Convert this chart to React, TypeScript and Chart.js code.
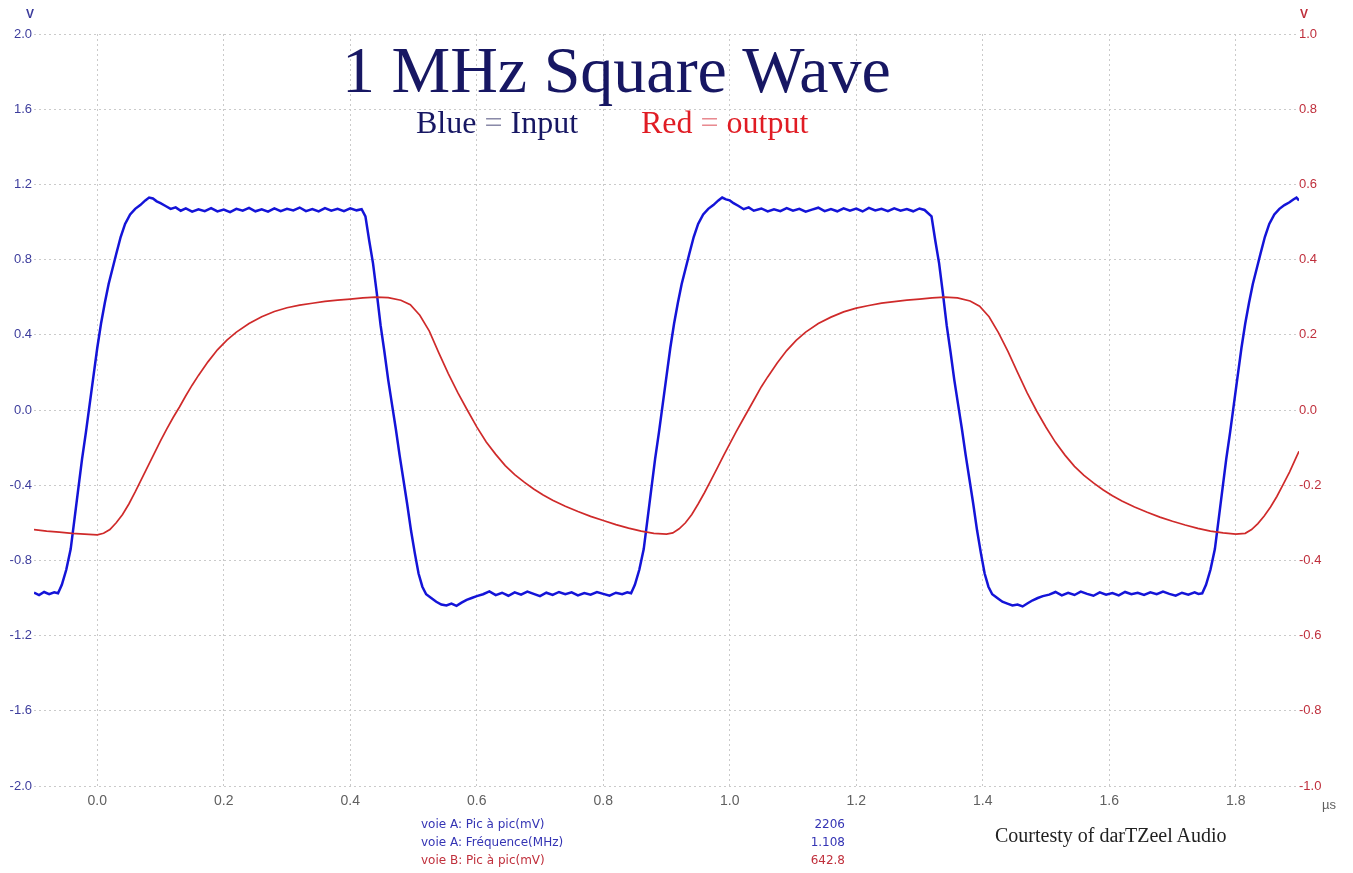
import React, { useEffect, useRef } from "react";
import { Chart, registerables } from "chart.js";

Chart.register(...registerables);

// ---- axis ticks ----
const xTickValues = [0, 0.2, 0.4, 0.6, 0.8, 1.0, 1.2, 1.4, 1.6, 1.8];
const leftTickValues = [-2.0, -1.6, -1.2, -0.8, -0.4, 0.0, 0.4, 0.8, 1.2, 1.6, 2.0];
const rightTickValues = [-1.0, -0.8, -0.6, -0.4, -0.2, 0.0, 0.2, 0.4, 0.6, 0.8, 1.0];

// ---- channel A (blue, input, left axis, V) ----
const blueTime = [
  -0.1, -0.092, -0.084, -0.076, -0.068, -0.062, -0.056, -0.049, -0.042, -0.036, -0.03, -0.024, -0.018, -0.012,
  -0.006, 0.0, 0.006, 0.012, 0.018, 0.024, 0.03, 0.037, 0.044, 0.052, 0.06, 0.068, 0.076, 0.082, 0.088, 0.094,
  0.1, 0.108, 0.116, 0.124, 0.132, 0.14, 0.15, 0.16, 0.17, 0.18, 0.19, 0.2, 0.21, 0.22, 0.23, 0.24, 0.25, 0.26,
  0.27, 0.28, 0.29, 0.3, 0.31, 0.32, 0.33, 0.34, 0.35, 0.36, 0.37, 0.38, 0.39, 0.4, 0.41, 0.418, 0.424, 0.43,
  0.436, 0.442, 0.448, 0.454, 0.46, 0.466, 0.472, 0.478, 0.484, 0.49, 0.496, 0.502, 0.508, 0.514, 0.52, 0.528,
  0.536, 0.544, 0.552, 0.56, 0.568, 0.576, 0.584, 0.592, 0.6, 0.61, 0.62, 0.63, 0.64, 0.65, 0.66, 0.67, 0.68,
  0.69, 0.7, 0.71, 0.72, 0.73, 0.74, 0.75, 0.76, 0.77, 0.78, 0.79, 0.8, 0.81, 0.82, 0.83, 0.838, 0.844, 0.85,
  0.857, 0.864, 0.87, 0.876, 0.882, 0.888, 0.894, 0.9, 0.906, 0.912, 0.918, 0.924, 0.93, 0.936, 0.943, 0.95,
  0.958, 0.966, 0.974, 0.982, 0.988, 0.994, 1.0, 1.006, 1.014, 1.022, 1.03, 1.038, 1.05, 1.06, 1.07, 1.08, 1.09,
  1.1, 1.11, 1.12, 1.13, 1.14, 1.15, 1.16, 1.17, 1.18, 1.19, 1.2, 1.21, 1.22, 1.23, 1.24, 1.25, 1.26, 1.27, 1.28,
  1.29, 1.3, 1.308, 1.319, 1.325, 1.331, 1.337, 1.343, 1.349, 1.355, 1.361, 1.367, 1.373, 1.379, 1.385, 1.391,
  1.397, 1.403, 1.409, 1.415, 1.423, 1.431, 1.439, 1.447, 1.455, 1.463, 1.471, 1.479, 1.487, 1.495, 1.505, 1.515,
  1.525, 1.535, 1.545, 1.555, 1.565, 1.575, 1.585, 1.595, 1.605, 1.615, 1.625, 1.635, 1.645, 1.655, 1.665, 1.675,
  1.685, 1.695, 1.705, 1.715, 1.725, 1.735, 1.741, 1.747, 1.753, 1.76, 1.767, 1.773, 1.779, 1.785, 1.791, 1.797,
  1.803, 1.809, 1.815, 1.821, 1.827, 1.833, 1.839, 1.846, 1.853, 1.861, 1.869, 1.877, 1.885, 1.891, 1.896, 1.9,
];
const blueVolts = [
  -0.972, -0.985, -0.968, -0.98, -0.97, -0.975, -0.93, -0.85, -0.74, -0.58, -0.42, -0.26, -0.12, 0.03,
  0.18, 0.33, 0.46, 0.57, 0.67, 0.75, 0.83, 0.92, 0.99, 1.04, 1.07, 1.09, 1.115, 1.13, 1.125, 1.11,
  1.1, 1.085, 1.07, 1.078, 1.06, 1.072, 1.055, 1.068, 1.058, 1.074, 1.056, 1.066, 1.052, 1.07, 1.06, 1.075, 1.057, 1.068,
  1.055, 1.073, 1.058, 1.07, 1.062, 1.077, 1.058, 1.069, 1.056, 1.074, 1.06, 1.07, 1.058, 1.073, 1.062, 1.068, 1.03, 0.9,
  0.78, 0.62, 0.45, 0.31, 0.16, 0.03, -0.1, -0.24, -0.37, -0.5, -0.64, -0.76, -0.87, -0.94, -0.98, -1.0,
  -1.02, -1.035, -1.04, -1.03, -1.042, -1.025, -1.01, -1.0, -0.99, -0.98, -0.965, -0.985, -0.972, -0.988, -0.97, -0.982, -0.966,
  -0.978, -0.99, -0.972, -0.984, -0.968, -0.98, -0.97, -0.986, -0.974, -0.982, -0.968, -0.978, -0.988, -0.972, -0.98, -0.97, -0.975, -0.93,
  -0.85, -0.74, -0.58, -0.42, -0.26, -0.12, 0.03, 0.18, 0.33, 0.46, 0.57, 0.67, 0.75, 0.83, 0.92, 0.99,
  1.04, 1.07, 1.09, 1.115, 1.13, 1.12, 1.115, 1.1, 1.085, 1.068, 1.078, 1.06, 1.072, 1.056, 1.068, 1.058, 1.074,
  1.06, 1.07, 1.055, 1.066, 1.076, 1.058, 1.069, 1.057, 1.073, 1.06, 1.071, 1.056, 1.075, 1.062, 1.07, 1.058, 1.073, 1.06, 1.069,
  1.057, 1.072, 1.064, 1.03, 0.9, 0.78, 0.62, 0.45, 0.31, 0.16, 0.03, -0.1, -0.24, -0.37, -0.5, -0.64,
  -0.76, -0.87, -0.94, -0.98, -1.0, -1.02, -1.03, -1.04, -1.035, -1.045, -1.028, -1.012, -1.0, -0.99, -0.982, -0.968,
  -0.986, -0.972, -0.984, -0.966, -0.978, -0.988, -0.97, -0.982, -0.974, -0.986, -0.968, -0.98, -0.972, -0.984, -0.97, -0.98,
  -0.966, -0.978, -0.988, -0.972, -0.982, -0.97, -0.978, -0.975, -0.93, -0.85, -0.74, -0.58, -0.42, -0.26, -0.12, 0.03,
  0.18, 0.33, 0.46, 0.57, 0.67, 0.75, 0.83, 0.92, 0.99, 1.04, 1.07, 1.09, 1.105, 1.12, 1.13, 1.115,
];

// ---- channel B (red, output, right axis, V) ----
const redTime = [
  -0.1, -0.08, -0.06, -0.04, -0.02, 0.0, 0.01, 0.02, 0.03, 0.04, 0.05, 0.06, 0.07, 0.08, 0.09, 0.1, 0.11, 0.12,
  0.13, 0.14, 0.15, 0.16, 0.175, 0.19, 0.205, 0.22, 0.24, 0.26, 0.28, 0.3, 0.32, 0.34, 0.36, 0.38, 0.4, 0.42,
  0.44, 0.46, 0.48, 0.495, 0.51, 0.525, 0.54, 0.555, 0.57, 0.585, 0.6, 0.615, 0.63, 0.645, 0.66, 0.675, 0.69,
  0.705, 0.72, 0.74, 0.76, 0.78, 0.8, 0.82, 0.84, 0.86, 0.88, 0.9, 0.91, 0.92, 0.93, 0.94, 0.95, 0.96, 0.97,
  0.98, 0.99, 1.0, 1.01, 1.02, 1.03, 1.04, 1.05, 1.06, 1.075, 1.09, 1.105, 1.12, 1.14, 1.16, 1.18, 1.2, 1.22,
  1.24, 1.26, 1.28, 1.3, 1.32, 1.34, 1.36, 1.38, 1.395, 1.41, 1.425, 1.44, 1.455, 1.47, 1.485, 1.5, 1.515, 1.53,
  1.545, 1.56, 1.575, 1.59, 1.605, 1.62, 1.64, 1.66, 1.68, 1.7, 1.72, 1.74, 1.76, 1.78, 1.8, 1.815, 1.825, 1.835,
  1.845, 1.855, 1.865, 1.875, 1.885, 1.895, 1.9,
];
const redVolts = [
  -0.318, -0.322, -0.325, -0.328, -0.33, -0.332, -0.328, -0.318, -0.3, -0.278, -0.25, -0.218, -0.184, -0.15, -0.116, -0.082, -0.05, -0.02,
  0.008, 0.038, 0.066, 0.092, 0.128, 0.16, 0.186, 0.207, 0.23, 0.248, 0.262, 0.272, 0.279, 0.284, 0.289, 0.292, 0.295, 0.298,
  0.3, 0.299, 0.292, 0.28, 0.252, 0.21, 0.152, 0.097, 0.046, 0.0, -0.045, -0.085, -0.118, -0.148, -0.172, -0.192, -0.21,
  -0.226, -0.24, -0.256, -0.27, -0.283, -0.294, -0.305, -0.314, -0.322, -0.328, -0.33, -0.327, -0.316, -0.3, -0.278, -0.25, -0.22, -0.188,
  -0.155, -0.122, -0.09, -0.058, -0.028, 0.002, 0.032, 0.062, 0.088, 0.125, 0.158, 0.185, 0.207, 0.23, 0.247, 0.261, 0.271, 0.278,
  0.284, 0.288, 0.292, 0.295, 0.298, 0.3, 0.298, 0.29, 0.276, 0.248, 0.205, 0.155, 0.1, 0.046, -0.002, -0.046, -0.086, -0.12,
  -0.15, -0.174, -0.194, -0.212, -0.228, -0.242, -0.258, -0.272, -0.285, -0.296, -0.306, -0.315, -0.322, -0.327, -0.33, -0.328, -0.318, -0.302,
  -0.282, -0.258, -0.23, -0.198, -0.165, -0.128, -0.11,
];

// ---- annotation texts ----
const titleText = "1 MHz Square Wave";
const infoLabels = ["voie A: Pic à pic(mV)", "voie A: Fréquence(MHz)", "voie B: Pic à pic(mV)"];
const infoValues = ["2206", "1.108", "642.8"];
const courtesyText = "Courtesty of darTZeel Audio";

const BLUE = "#1414d8";
const RED = "#cf2a2a";

export default function App() {
  const canvasRef = useRef<HTMLCanvasElement | null>(null);

  useEffect(() => {
    const canvas = canvasRef.current;
    if (!canvas) return;
    const blueData = blueTime.map((t, i) => ({ x: t, y: blueVolts[i] }));
    const redData = redTime.map((t, i) => ({ x: t, y: redVolts[i] }));
    const fmt = (v: any) => Number(v).toFixed(1);

    const chart = new Chart(canvas, {
      type: "line",
      data: {
        datasets: [
          {
            label: "voie B",
            data: redData,
            yAxisID: "yR",
            borderColor: RED,
            borderWidth: 1.7,
            pointRadius: 0,
            tension: 0,
          },
          {
            label: "voie A",
            data: blueData,
            yAxisID: "yL",
            borderColor: BLUE,
            borderWidth: 2.5,
            pointRadius: 0,
            tension: 0,
          },
        ],
      },
      options: {
        animation: false,
        responsive: true,
        maintainAspectRatio: false,
        devicePixelRatio: 1,
        layout: { padding: { top: 34, left: 0, right: 0, bottom: 0 } },
        plugins: { legend: { display: false }, tooltip: { enabled: false }, title: { display: false } },
        scales: {
          x: {
            type: "linear",
            position: "bottom",
            min: -0.1,
            max: 1.9,
            afterBuildTicks: (s: any) => {
              s.ticks = xTickValues.map((v) => ({ value: v }));
            },
            afterFit: (s: any) => {
              s.height = 87;
            },
            grid: { color: "#cacaca", lineWidth: 1, drawTicks: false },
            border: { display: false, dash: [2, 3] },
            ticks: {
              autoSkip: false,
              maxRotation: 0,
              padding: 7,
              color: "#606060",
              font: { family: "Liberation Sans, Arial, sans-serif", size: 14 },
              callback: fmt,
            },
          },
          yL: {
            type: "linear",
            position: "left",
            min: -2,
            max: 2,
            afterBuildTicks: (s: any) => {
              s.ticks = leftTickValues.map((v) => ({ value: v }));
            },
            afterFit: (s: any) => {
              s.width = 34;
            },
            grid: { color: "#cacaca", lineWidth: 1, drawTicks: false },
            border: { display: false, dash: [2, 3] },
            ticks: {
              padding: 2,
              color: "#3c3c9c",
              font: { family: "Liberation Sans, Arial, sans-serif", size: 13 },
              callback: fmt,
            },
          },
          yR: {
            type: "linear",
            position: "right",
            min: -1,
            max: 1,
            afterBuildTicks: (s: any) => {
              s.ticks = rightTickValues.map((v) => ({ value: v }));
            },
            afterFit: (s: any) => {
              s.width = 54;
            },
            grid: { drawOnChartArea: false, drawTicks: false },
            border: { display: false },
            ticks: {
              padding: 0,
              color: "#bf2f3c",
              font: { family: "Liberation Sans, Arial, sans-serif", size: 13 },
              callback: fmt,
            },
          },
        },
      },
    } as any);

    return () => {
      chart.destroy();
    };
  }, []);

  const abs = (style: React.CSSProperties): React.CSSProperties => ({
    position: "absolute",
    whiteSpace: "nowrap",
    pointerEvents: "none",
    margin: 0,
    ...style,
  });

  return (
    <div
      style={{
        position: "absolute",
        left: 0,
        top: 0,
        width: 1353,
        height: 873,
        background: "#ffffff",
        overflow: "hidden",
      }}
    >
      <canvas ref={canvasRef} style={{ position: "absolute", left: 0, top: 0, width: 1353, height: 873 }} />

      <div style={abs({ left: 26, top: 6, font: "bold 12px 'Liberation Sans', Arial, sans-serif", color: "#3c3c9c", lineHeight: "16px" })}>V</div>
      <div style={abs({ left: 1300, top: 6, font: "bold 12px 'Liberation Sans', Arial, sans-serif", color: "#bf2f3c", lineHeight: "16px" })}>V</div>
      <div style={abs({ left: 1322, top: 797, font: "13px 'Liberation Sans', Arial, sans-serif", color: "#606060", lineHeight: "16px" })}>µs</div>

      <div
        style={abs({
          left: 342,
          top: 37,
          font: "66px 'Liberation Serif', 'Times New Roman', serif",
          lineHeight: "66px",
          color: "#171763",
        })}
      >
        {titleText}
      </div>
      <div
        style={abs({
          left: 416,
          top: 106,
          font: "32px 'Liberation Serif', 'Times New Roman', serif",
          lineHeight: "32px",
          color: "#171763",
        })}
      >
        Blue <span style={{ color: "#8a8aa8" }}>=</span> Input
      </div>
      <div
        style={abs({
          left: 641,
          top: 106,
          font: "32px 'Liberation Serif', 'Times New Roman', serif",
          lineHeight: "32px",
          color: "#e01c24",
        })}
      >
        Red <span style={{ color: "#e88a90" }}>=</span> output
      </div>

      {infoLabels.map((label, i) => (
        <div
          key={"l" + i}
          style={abs({
            left: 421,
            top: 815 + i * 18,
            font: "12px 'DejaVu Sans', Verdana, sans-serif",
            lineHeight: "18px",
            color: i < 2 ? "#3434b4" : "#c0303c",
          })}
        >
          {label}
        </div>
      ))}
      {infoValues.map((value, i) => (
        <div
          key={"v" + i}
          style={abs({
            left: 700,
            width: 145,
            textAlign: "right",
            top: 815 + i * 18,
            font: "12px 'DejaVu Sans', Verdana, sans-serif",
            lineHeight: "18px",
            color: i < 2 ? "#3434b4" : "#c0303c",
          })}
        >
          {value}
        </div>
      ))}

      <div
        style={abs({
          left: 995,
          top: 825,
          font: "20px 'Liberation Serif', 'Times New Roman', serif",
          lineHeight: "20px",
          color: "#222222",
        })}
      >
        {courtesyText}
      </div>
    </div>
  );
}
